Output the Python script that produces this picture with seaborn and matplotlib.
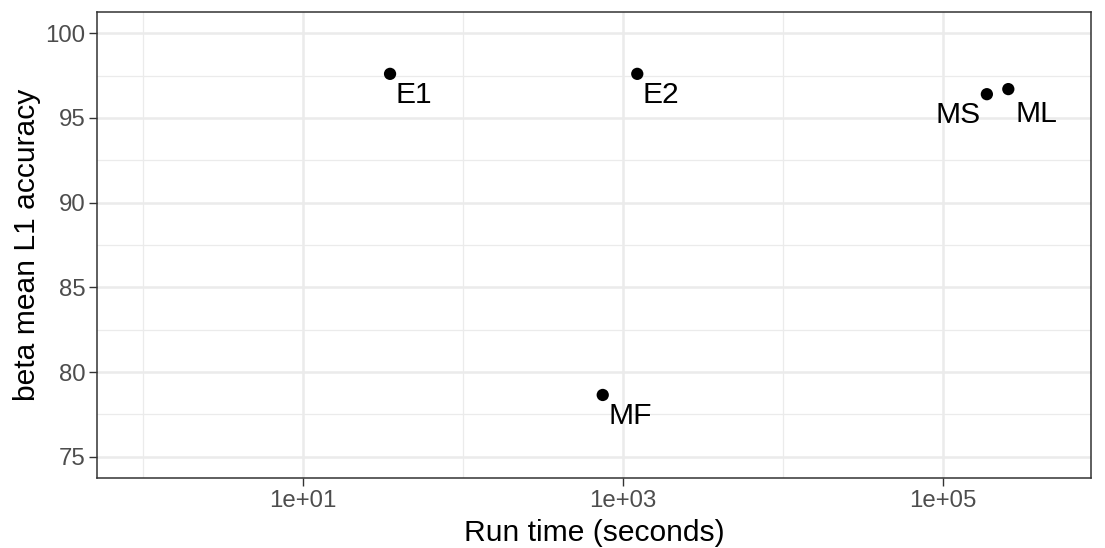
import numpy as np
import pandas as pd
import matplotlib
matplotlib.use("Agg")
import matplotlib.pyplot as plt
import seaborn as sns
from matplotlib.ticker import FixedLocator, FixedFormatter

# ---- data ----
methods = ["E1", "E2", "MF", "MS", "ML"]
run_time = [35.0, 1228.0, 747.0, 188000.0, 256000.0]
accuracy = [97.6, 97.6, 78.65, 96.4, 96.7]

x_ticks = [1e1, 1e3, 1e5]
x_tick_labels = ["1e+01", "1e+03", "1e+05"]
y_ticks = [75, 80, 85, 90, 95, 100]

df = pd.DataFrame({"method": methods, "time": run_time, "acc": accuracy})

# label placement (offsets in points, alignment)
label_style = {
    "E1": ((4.0, -5.0), "left"),
    "E2": ((4.0, -5.0), "left"),
    "MF": ((4.0, -5.0), "left"),
    "MS": ((-4.5, -5.0), "right"),
    "ML": ((5.0, -8.0), "left"),
}

sns.set_theme(style="white")
plt.rcParams["font.family"] = ["Liberation Sans", "DejaVu Sans"]

fig = plt.figure(figsize=(11.05, 5.48), dpi=100)
ax = fig.add_axes([97 / 1105, 1 - 478 / 548, (1091 - 97) / 1105, (478 - 12) / 548])

sns.scatterplot(data=df, x="time", y="acc", ax=ax, color="black", s=78,
                edgecolor="none", zorder=3, legend=False)
ax.set_xscale("log")
ax.set_xlim(10 ** -0.2875, 10 ** 5.925)
ax.set_ylim(73.75, 101.25)

# grid (ggplot theme_bw style)
for v in [1e0, 1e2, 1e4, 1e6]:
    ax.axvline(v, color="#EBEBEB", lw=0.9, zorder=0)
for v in [77.5, 82.5, 87.5, 92.5, 97.5]:
    ax.axhline(v, color="#EBEBEB", lw=0.9, zorder=0)
for v in x_ticks:
    ax.axvline(v, color="#EBEBEB", lw=1.8, zorder=0)
for v in y_ticks:
    ax.axhline(v, color="#EBEBEB", lw=1.8, zorder=0)

ax.xaxis.set_major_locator(FixedLocator(x_ticks))
ax.xaxis.set_major_formatter(FixedFormatter(x_tick_labels))
ax.xaxis.set_minor_locator(FixedLocator([]))
ax.set_yticks(y_ticks)
ax.set_yticklabels([str(v) for v in y_ticks])

ax.tick_params(axis="both", which="major", length=5.5, width=1.0, color="#333333",
               labelcolor="#4D4D4D", labelsize=17.3, pad=3, direction="out",
               bottom=True, left=True)
for sp in ax.spines.values():
    sp.set_color("#333333")
    sp.set_linewidth(1.1)
    sp.set_visible(True)

ax.set_xlabel("Run time (seconds)", fontsize=21.6, color="black", labelpad=5.5)
ax.set_ylabel("beta mean L1 accuracy", fontsize=21.6, color="black", labelpad=3)

for m, t, a in zip(methods, run_time, accuracy):
    off, ha = label_style[m]
    ax.annotate(m, (t, a), xytext=off, textcoords="offset points",
                ha=ha, va="top", fontsize=21.6, color="black", zorder=4)

fig.savefig("out.png", dpi=100)
